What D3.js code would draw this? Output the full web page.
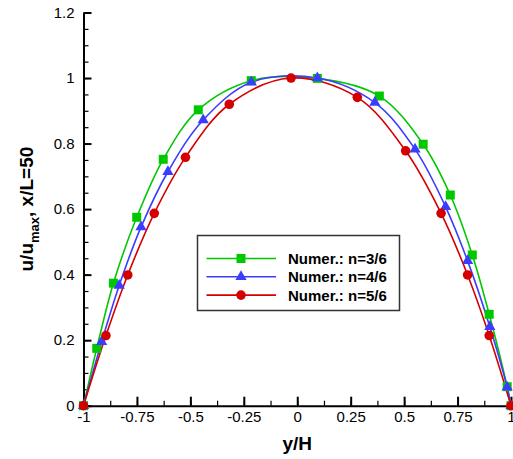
<!DOCTYPE html>
<html>
<head>
<meta charset="utf-8">
<script src="https://cdn.jsdelivr.net/npm/d3@7"></script>
<style>
  body { margin: 0; background: #fff; }
  svg { display: block; font-family: Arial, "Liberation Sans", Helvetica, sans-serif; }
</style>
</head>
<body>
<div id="chart"></div>
<script>
// tick values
var xTicks = [-1, -0.75, -0.5, -0.25, 0, 0.25, 0.5, 0.75, 1];
var yTicks = [0, 0.2, 0.4, 0.6, 0.8, 1, 1.2];

// series
var seriesNames = ["Numer.: n=3/6", "Numer.: n=4/6", "Numer.: n=5/6"];

var n3x = [-1, -0.938, -0.860, -0.751, -0.627, -0.463, -0.215, 0.094, 0.384, 0.589, 0.716, 0.819, 0.898, 0.982, 1];
var n3y = [0, 0.175, 0.374, 0.575, 0.752, 0.903, 0.992, 0.999, 0.945, 0.798, 0.643, 0.460, 0.279, 0.058, 0];

var n4x = [-1, -0.915, -0.833, -0.731, -0.605, -0.440, -0.215, 0.094, 0.363, 0.551, 0.694, 0.797, 0.901, 0.982, 1];
var n4y = [0, 0.195, 0.367, 0.545, 0.714, 0.872, 0.987, 1.0, 0.925, 0.783, 0.607, 0.442, 0.241, 0.056, 0];

var n5x = [-1, -0.895, -0.793, -0.669, -0.523, -0.318, -0.029, 0.281, 0.507, 0.673, 0.797, 0.898, 1];
var n5y = [0, 0.214, 0.399, 0.587, 0.758, 0.920, 1.0, 0.941, 0.778, 0.587, 0.399, 0.214, 0];

var W = 513, H = 459;
var margin = { top: 12.5, right: 2, bottom: 53.3, left: 83.5 };
var width = W - margin.left - margin.right,
    height = H - margin.top - margin.bottom;

var svg = d3.select("#chart").append("svg")
    .attr("width", W)
    .attr("height", H);

var g = svg.append("g")
    .attr("transform", "translate(" + margin.left + "," + margin.top + ")");

var x = d3.scaleLinear().domain([-1, 1]).range([0, width]);
var y = d3.scaleLinear().domain([0, 1.2]).range([height, 0]);

var fmt = function(d) { return String(d); };

// minor ticks
var xMinor = d3.range(-1, 1.0001, 0.125);
var yMinor = d3.range(0, 1.2001, 0.05);

g.append("g")
    .attr("transform", "translate(0," + height + ")")
    .call(d3.axisBottom(x).tickValues(xMinor).tickSize(-5).tickSizeOuter(0).tickFormat(""))
    .call(function(a) { a.select(".domain").remove(); a.selectAll("line").attr("stroke-width", 1.2); });

g.append("g")
    .call(d3.axisLeft(y).tickValues(yMinor).tickSize(-5).tickSizeOuter(0).tickFormat(""))
    .call(function(a) { a.select(".domain").remove(); a.selectAll("line").attr("stroke-width", 1.2); });

// major axes
var xAxis = g.append("g")
    .attr("transform", "translate(0," + height + ")")
    .call(d3.axisBottom(x).tickValues(xTicks).tickSize(-9).tickSizeOuter(0).tickPadding(6).tickFormat(fmt));

var yAxis = g.append("g")
    .call(d3.axisLeft(y).tickValues(yTicks).tickSize(-8).tickSizeOuter(0).tickPadding(9).tickFormat(fmt));

[xAxis, yAxis].forEach(function(a) {
    a.select(".domain").attr("stroke-width", 2);
    a.selectAll(".tick line").attr("stroke-width", 2);
    a.selectAll("text").attr("font-size", "15px").attr("fill", "#000")
        .attr("font-family", "Arial, 'Liberation Sans', sans-serif");
});

// curves + markers
var colors = ["#00c800", "#3c3cff", "#d40000"];
var symbols = [d3.symbolSquare, d3.symbolTriangle, d3.symbolCircle];
var sizes = [81, 55, 72];
var series = [
    { xs: n3x, ys: n3y },
    { xs: n4x, ys: n4y },
    { xs: n5x, ys: n5y }
];

var line = d3.line()
    .x(function(d) { return x(d[0]); })
    .y(function(d) { return y(d[1]); })
    .curve(d3.curveCatmullRom.alpha(0.5));

series.forEach(function(s, i) {
    var pts = s.xs.map(function(v, k) { return [v, s.ys[k]]; });
    g.append("path")
        .datum(pts)
        .attr("fill", "none")
        .attr("stroke", colors[i])
        .attr("stroke-width", 1.6)
        .attr("d", line);
});

series.forEach(function(s, i) {
    var pts = s.xs.map(function(v, k) { return [v, s.ys[k]]; });
    g.selectAll(".m" + i)
        .data(pts)
        .enter()
        .append("path")
        .attr("class", "m" + i)
        .attr("transform", function(d) { return "translate(" + x(d[0]) + "," + y(d[1]) + ")"; })
        .attr("d", d3.symbol().type(symbols[i]).size(sizes[i]))
        .attr("fill", colors[i]);
});

// legend
var legend = svg.append("g").attr("transform", "translate(197.5,235.5)");
legend.append("rect")
    .attr("width", 202)
    .attr("height", 75)
    .attr("fill", "#fff")
    .attr("stroke", "#333")
    .attr("stroke-width", 1.5);

seriesNames.forEach(function(name, i) {
    var yy = 23 + i * 18.3;
    legend.append("line")
        .attr("x1", 9).attr("x2", 78.5)
        .attr("y1", yy).attr("y2", yy)
        .attr("stroke", colors[i])
        .attr("stroke-width", 1.6);
    legend.append("path")
        .attr("transform", "translate(43.5," + yy + ")")
        .attr("d", d3.symbol().type(symbols[i]).size(sizes[i]))
        .attr("fill", colors[i]);
    legend.append("text")
        .attr("x", 90.5)
        .attr("y", yy)
        .attr("dy", "0.36em")
        .attr("font-size", "15px")
        .attr("font-weight", "bold")
        .text(name);
});

// axis titles
svg.append("text")
    .attr("x", margin.left + x(0))
    .attr("y", 450)
    .attr("text-anchor", "middle")
    .attr("font-size", "19px")
    .attr("font-weight", "bold")
    .text("y/H");

var yt = svg.append("text")
    .attr("transform", "translate(33," + (margin.top + height / 2) + ") rotate(-90)")
    .attr("text-anchor", "middle")
    .attr("font-size", "19px")
    .attr("font-weight", "bold");
yt.append("tspan").text("u/u");
yt.append("tspan").attr("font-size", "13px").attr("dy", 6).text("max");
yt.append("tspan").attr("dy", -6).text(", x/L=50");
</script>
</body>
</html>
